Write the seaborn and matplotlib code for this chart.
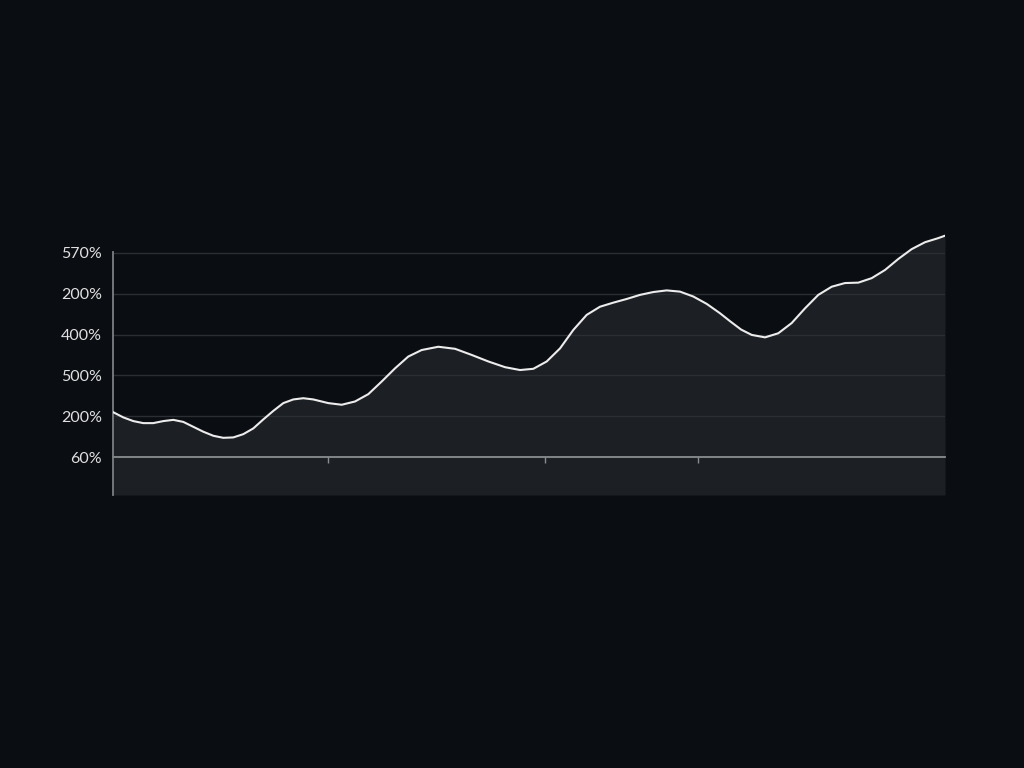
import matplotlib
matplotlib.use("Agg")
import matplotlib.pyplot as plt
import seaborn as sns
import pandas as pd

# ---- data ----
x_pos = [0, 1.24, 2.44, 3.64, 4.84, 6.05, 7.25, 8.45, 9.65, 10.85, 12.06, 13.26, 14.46,
         15.66, 16.86, 18.06, 19.27, 20.47, 21.67, 22.87, 24.07, 25.88, 27.49, 29.09,
         30.69, 32.30, 33.89, 35.49, 37.10, 39.10, 41.11, 43.11, 45.11, 47.12, 48.92,
         50.52, 52.13, 53.73, 55.32, 56.93, 58.53, 60.13, 61.74, 63.34, 64.94, 66.55,
         68.15, 69.75, 71.36, 72.96, 74.2, 75.5, 76.77, 78.37, 79.96, 81.57, 83.17,
         84.77, 86.38, 87.98, 89.58, 91.19, 92.79, 94.39, 95.99, 97.60, 99.19, 100]
values = [1.10, 0.97, 0.88, 0.83, 0.83, 0.88, 0.91, 0.86, 0.74, 0.62, 0.52, 0.47, 0.48,
          0.56, 0.70, 0.92, 1.13, 1.32, 1.41, 1.44, 1.41, 1.32, 1.28, 1.36,
          1.54, 1.85, 2.17, 2.46, 2.62, 2.70, 2.65, 2.50, 2.34, 2.20, 2.13,
          2.16, 2.34, 2.66, 3.11, 3.48, 3.68, 3.78, 3.87, 3.97, 4.04, 4.08,
          4.05, 3.93, 3.75, 3.52, 3.32, 3.12, 2.99, 2.93, 3.03, 3.28, 3.64,
          3.97, 4.17, 4.26, 4.27, 4.38, 4.58, 4.85, 5.09, 5.26, 5.36, 5.42]
y_ticks = [0, 1, 2, 3, 4, 5]
y_tick_labels = ["60%", "200%", "500%", "400%", "200%", "570%"]
x_ticks = [25.8, 51.9, 70.3]

BG = "#0a0d12"
sns.set_theme(style="dark", rc={"xtick.bottom": True, "xtick.major.size": 4,
                                "xtick.major.width": 1.0, "axes.axisbelow": False})
plt.rcParams["font.family"] = ["Lato", "DejaVu Sans"]

df = pd.DataFrame({"x": x_pos, "v": values})

fig = plt.figure(figsize=(10.24, 7.68), dpi=100, facecolor=BG)
ax = fig.add_axes([113 / 1024, 1 - 495 / 768, (945 - 113) / 1024, (495 - 232) / 768])
ax.set_facecolor(BG)
ax.set_axisbelow(False)

ymin, ymax = -0.93, 5.51
ax.set_xlim(0, 100)
ax.set_ylim(ymin, ymax)

ax.fill_between(df["x"], df["v"], ymin, color="#1c1f23", lw=0, zorder=1)
for yt in y_ticks[1:]:
    ax.axhline(yt, color="#2b2e33", lw=1.0, zorder=1.5)
sns.lineplot(data=df, x="x", y="v", ax=ax, color="#ececec", lw=1.5, zorder=3,
             solid_joinstyle="round", solid_capstyle="round")

ax.set_xlabel("")
ax.set_ylabel("")
ax.set_yticks(y_ticks)
ax.set_yticklabels(y_tick_labels, color="#e0e0e0", fontsize=11.5)
ax.set_xticks(x_ticks)
ax.set_xticklabels([])
ax.xaxis.set_tick_params(which="major", bottom=True, direction="out", length=4,
                         width=1.0, color="#8a8d90")
ax.tick_params(axis="y", length=0, pad=8)
ax.grid(False)

for s in ["top", "right"]:
    ax.spines[s].set_visible(False)
ax.spines["bottom"].set_position(("data", 0))
ax.spines["bottom"].set_color("#8a8d90")
ax.spines["bottom"].set_linewidth(1.3)
ax.spines["bottom"].set_zorder(2)
ax.spines["left"].set_bounds(ymin, 5.02)
ax.spines["left"].set_color("#7c7f83")
ax.spines["left"].set_linewidth(1.3)

fig.savefig("out.png", dpi=100, facecolor=BG)
